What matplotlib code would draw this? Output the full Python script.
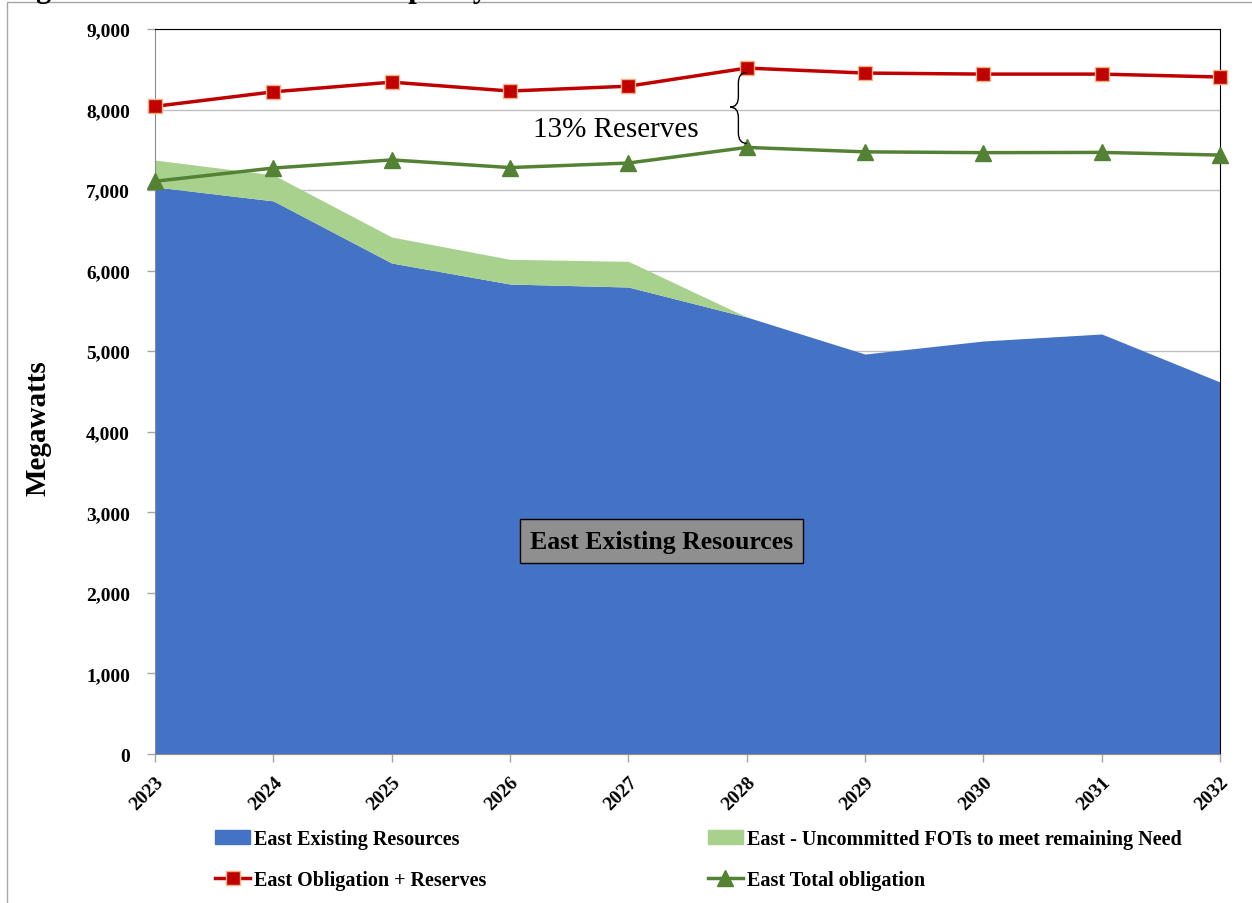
import matplotlib.pyplot as plt
from matplotlib.patches import Rectangle, Patch, PathPatch
from matplotlib.lines import Line2D
from matplotlib.path import Path
from matplotlib.ticker import FuncFormatter

years = ["2023", "2024", "2025", "2026", "2027", "2028", "2029", "2030", "2031", "2032"]
existing = [7040, 6866, 6095, 5834, 5797, 5425, 4965, 5127, 5214, 4618]
uncommitted_fots = [333, 324, 323, 307, 319, 0, 0, 0, 0, 0]
obligation_reserves = [8040, 8220, 8340, 8230, 8290, 8515, 8453, 8440, 8440, 8404]
total_obligation = [7110, 7274, 7375, 7280, 7336, 7530, 7475, 7465, 7468, 7435]

plt.rcParams['font.family'] = ['Liberation Serif', 'DejaVu Serif']

fig = plt.figure(figsize=(12.52, 9.04), dpi=100)
ax = fig.add_axes([155/1252, 1-755/904, (1220-155)/1252, (755-30)/904])

x = list(range(len(years)))
top = [a + b for a, b in zip(existing, uncommitted_fots)]

ax.fill_between(x, 0, existing, color='#4472c4', lw=0, zorder=2)
ax.fill_between(x, existing, top, color='#a9d18e', lw=0, zorder=2)
ax.plot(x, obligation_reserves, color='#c00000', lw=2.5, marker='s', ms=10,
        mfc='#c00000', mec='#f4b183', mew=1, zorder=4, clip_on=False)
ax.plot(x, total_obligation, color='#548235', lw=2.5, marker='^', ms=11,
        mfc='#548235', mec='#548235', zorder=4, clip_on=False)

ax.set_xlim(0, len(years) - 1)
ax.set_ylim(0, 9000)
ax.set_yticks(range(0, 9001, 1000))
ax.yaxis.set_major_formatter(FuncFormatter(lambda v, p: f"{int(v):,}"))
ax.set_xticks(x)
ax.set_xticklabels(years, rotation=45, ha='right', rotation_mode='anchor')
ax.tick_params(axis='both', labelsize=14, color='#a6a6a6', length=6, width=1)
ax.tick_params(axis='y', pad=12)
ax.tick_params(axis='x', pad=8)
for lab in ax.get_xticklabels() + ax.get_yticklabels():
    lab.set_fontweight('bold')

ax.grid(axis='y', color='#bfbfbf', lw=1, zorder=1)
ax.set_axisbelow(True)
ax.spines['top'].set_color('black')
ax.spines['right'].set_color('black')
ax.spines['left'].set_color('#8c8c8c')
ax.spines['bottom'].set_color('#8c8c8c')

ax.set_ylabel("Megawatts", fontsize=21, fontweight='bold')
ax.yaxis.set_label_coords(-(155 - 52) / 1065, 1 - (428 - 30) / 725)

# brace between the two lines at 2028
xa, xs, xt = 5.0, 4.93, 4.86
ya, ym, yb = 8460, 8030, 7580
dy = 130
verts = [(xa, ya), (xs, ya), (xs, ya - dy), (xs, ym + dy), (xs, ym), (xt, ym),
         (xs, ym), (xs, ym - dy), (xs, yb + dy), (xs, yb), (xa, yb)]
codes = [Path.MOVETO, Path.CURVE3, Path.CURVE3, Path.LINETO, Path.CURVE3, Path.CURVE3,
         Path.CURVE3, Path.CURVE3, Path.LINETO, Path.CURVE3, Path.CURVE3]
ax.add_patch(PathPatch(Path(verts, codes), fc='none', ec='black', lw=1, zorder=5))
ax.text(3.89, 7760, "13% Reserves", fontsize=21, ha='center', va='center', zorder=5)

ax.text(4.28, 2644, "East Existing Resources", fontsize=18.5, fontweight='bold',
        ha='center', va='center', zorder=5,
        bbox=dict(boxstyle='square,pad=0.4', fc='#8f8f8f', ec='black', lw=1))

handles = [Patch(color='#4472c4'),
           Line2D([], [], color='#c00000', lw=2.5, marker='s', ms=10, mfc='#c00000', mec='#f4b183'),
           Patch(color='#a9d18e'),
           Line2D([], [], color='#548235', lw=2.5, marker='^', ms=11)]
labels = ["East Existing Resources", "East Obligation + Reserves",
          "East - Uncommitted FOTs to meet remaining Need", "East Total obligation"]
leg = fig.legend(handles, labels, ncol=2, loc='upper left', bbox_to_anchor=(215/1252, 1-830/904),
                 frameon=False, borderpad=0, borderaxespad=0, handlelength=1.74,
                 handletextpad=0.2, columnspacing=11.0, labelspacing=1.05,
                 prop={'size': 14.5, 'weight': 'bold'})

# outer frame
fig.add_artist(Rectangle((7/1252, -0.05), 1.1, 1 - 3/904 + 0.05, transform=fig.transFigure,
                         fill=False, ec='#a6a6a6', lw=1, clip_on=False))
fig.text(9/1252, 1 + 2.5/904, "Figure 9.20 \u2013 East Summer Capacity Position",
         fontsize=22, fontweight='bold', va='baseline', ha='left')

fig.savefig("out.png", dpi=100)
